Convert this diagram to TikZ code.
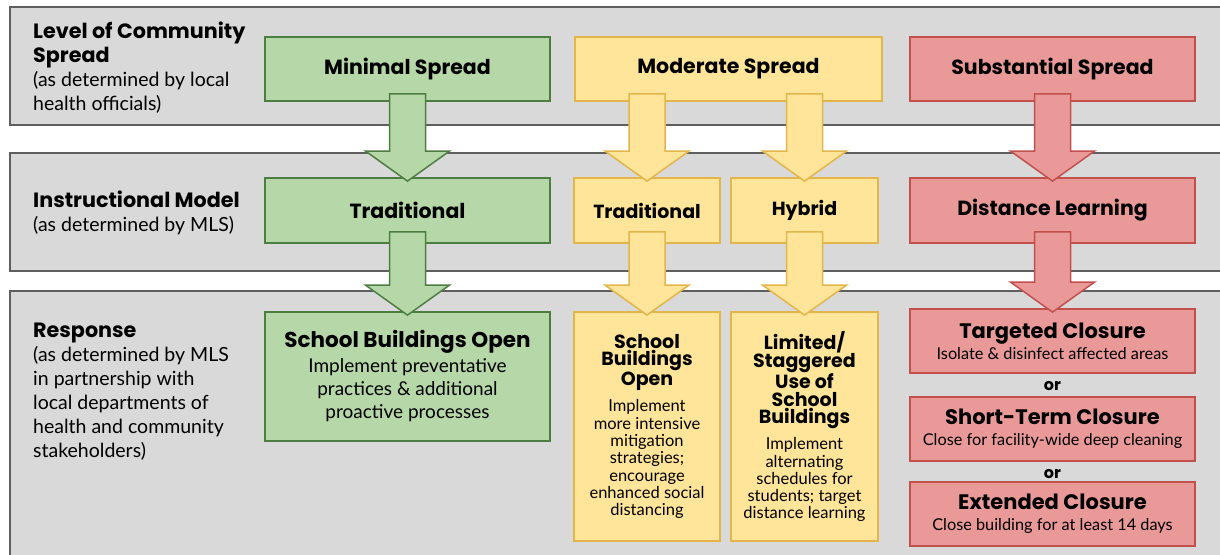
\documentclass[tikz,border=0pt]{standalone}
\usepackage{fontspec}
\setmainfont{Lato}
\newfontfamily\hd{Poppins}
\usetikzlibrary{calc}
\definecolor{bandfill}{HTML}{D9D9D9}
\definecolor{bandline}{HTML}{5F5F5F}
\definecolor{gfill}{HTML}{B6D7A8}
\definecolor{gline}{HTML}{4E7D42}
\definecolor{yfill}{HTML}{FFE599}
\definecolor{yline}{HTML}{E2B64A}
\definecolor{rfill}{HTML}{EA9999}
\definecolor{rline}{HTML}{C2504D}
\newcommand\hl[2]{\fontsize{#1}{#2}\selectfont\hd\bfseries}
\newcommand\bodyf[2]{\fontsize{#1}{#2}\selectfont\rmfamily\mdseries}
\tikzset{
  band/.style={fill=bandfill,draw=bandline,line width=1.8pt},
  bx/.style={rectangle,line width=1.8pt,inner sep=2pt,align=center,text=black},
  gbox/.style={bx,fill=gfill,draw=gline},
  ybox/.style={bx,fill=yfill,draw=yline},
  rbox/.style={bx,fill=rfill,draw=rline},
  garrow/.style={fill=gfill,draw=gline,line width=1.5pt,line join=miter},
  yarrow/.style={fill=yfill,draw=yline,line width=1.5pt,line join=miter},
  rarrow/.style={fill=rfill,draw=rline,line width=1.5pt,line join=miter},
  lbl/.style={anchor=north west,align=left,inner sep=0pt,text=black,font=\bodyf{19.5}{24}},
}
\newcommand\fatarrow[4]{% source, target, style, shaft offset
  \draw[#3] let \p1=(#2.north), \p2=(#1.south) in
   (\x1-18pt,\y2+#4) -- (\x1+18pt,\y2+#4) -- (\x1+18pt,\y1+26pt) -- (\x1+42pt,\y1+26pt)
   -- (\x1,\y1-4pt) -- (\x1-42pt,\y1+26pt) -- (\x1-18pt,\y1+26pt) -- cycle;}
\begin{document}
\begin{tikzpicture}[x={(1pt,0)},y={(0,-1pt)}]
\useasboundingbox[fill=white] (0,0) rectangle (1220,554);
% bands
\draw[band] (10,7) rectangle (1235,125);
\draw[band] (10,153) rectangle (1235,271);
\draw[band] (10,291) rectangle (1235,570);
% left labels
\node[lbl] (l1) at (33,21.5) {\hl{20.7}{24}Level of Community\\\hl{20.7}{24}Spread\\(as determined by local\\health officials)};
\node[lbl] (l2) at (33,191) {\hl{20.7}{24}Instructional Model\\(as determined by MLS)};
\node[lbl] (l3) at (33,322.5) {\hl{20.7}{24}Response\\(as determined by MLS\\in partnership with\\local departments of\\health and community\\stakeholders)};
% row 1
\node[gbox,minimum width=285,minimum height=64,font=\hl{20.5}{20.5}] (ms) at (407.5,69) {Minimal Spread};
\node[ybox,minimum width=307,minimum height=64,font=\hl{20.5}{20.5}] (mod) at (728.5,69) {Moderate Spread};
\node[rbox,minimum width=285,minimum height=64,font=\hl{20.5}{20.5}] (ss) at (1052.5,69) {Substantial Spread};
% row 2
\node[gbox,minimum width=285,minimum height=65,font=\hl{20.5}{20.5}] (gt) at (407.5,210.5) {Traditional};
\node[ybox,minimum width=146,minimum height=65,font=\hl{19}{19}] (yt) at (647,210.5) {Traditional};
\node[ybox,minimum width=147,minimum height=65,font=\hl{19}{19}] (yh) at (804.5,210.5) {Hybrid};
\node[rbox,minimum width=285,minimum height=65,font=\hl{20.5}{20.5}] (dl) at (1052.5,210.5) {Distance Learning};
% row 3
\node[gbox,minimum width=285,minimum height=129,font=\bodyf{19}{23}] (gs) at (407.5,376.5)
  {\hl{21.5}{22}School Buildings Open\\[2pt]Implement preventative\\practices \& additional\\proactive processes};
\node[ybox,minimum width=146,minimum height=229,font=\bodyf{16.5}{17.3}] (ys) at (647,426.5)
  {\hl{19}{19.3}School\\\hl{19}{19.3}Buildings\\\hl{19}{19.3}Open\\[9pt]Implement\\more intensive\\mitigation\\strategies;\\encourage\\enhanced social\\distancing};
\node[ybox,minimum width=147,minimum height=229,font=\bodyf{16.5}{17.3}] (yl) at (804.5,426.5)
  {\hl{19}{19.3}Limited/\\\hl{19}{19.3}Staggered\\\hl{19}{19.3}Use of\\\hl{19}{19.3}School\\\hl{19}{19.3}Buildings\\[8pt]Implement\\alternating\\schedules for\\students; target\\distance learning};
\node[rbox,minimum width=285,minimum height=64,font=\bodyf{16.3}{21}] (tc) at (1052.5,341)
  {\hl{21}{22}Targeted Closure\\Isolate \& disinfect affected areas};
\node[font=\hl{16}{16}] (or1) at (1052.5,386) {or};
\node[rbox,minimum width=285,minimum height=64,font=\bodyf{16.3}{21}] (stc) at (1052.5,429)
  {\hl{21}{22}Short-Term Closure\\Close for facility-wide deep cleaning};
\node[font=\hl{16}{16}] (or2) at (1052.5,474) {or};
\node[rbox,minimum width=285,minimum height=64,font=\bodyf{16.3}{21}] (ec) at (1052.5,514)
  {\hl{21}{22}Extended Closure\\Close building for at least 14 days};
% arrows
\fatarrow{ms}{gt}{garrow}{8pt}
\fatarrow{mod}{yt}{yarrow}{8pt}
\fatarrow{mod}{yh}{yarrow}{8pt}
\fatarrow{ss}{dl}{rarrow}{8pt}
\fatarrow{gt}{gs}{garrow}{12pt}
\fatarrow{yt}{ys}{yarrow}{12pt}
\fatarrow{yh}{yl}{yarrow}{12pt}
\fatarrow{dl}{tc}{rarrow}{12pt}
\end{tikzpicture}
\end{document}
